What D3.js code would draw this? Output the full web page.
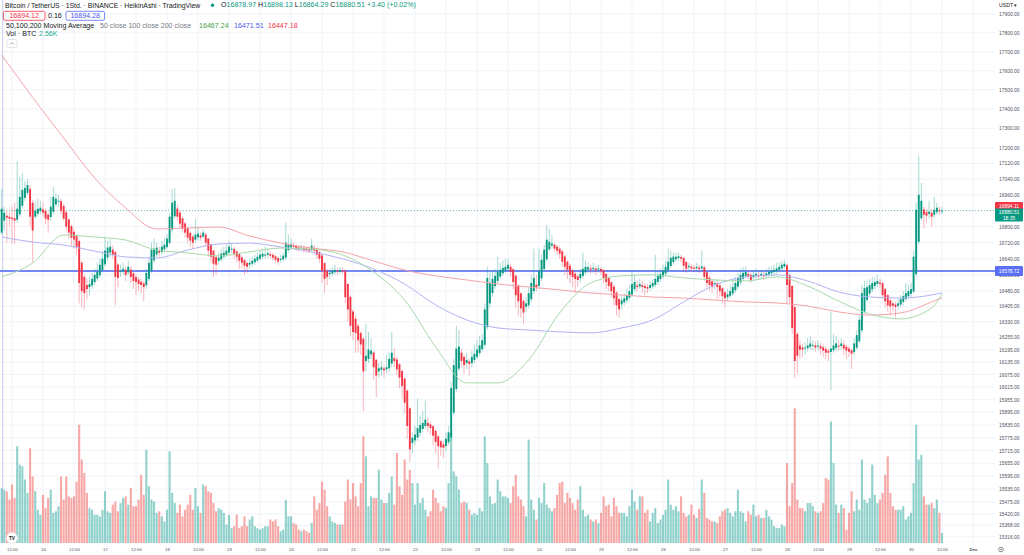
<!DOCTYPE html>
<html>
<head>
<meta charset="utf-8">
<script src="https://cdn.jsdelivr.net/npm/d3@7"></script>
<style>
  html, body { margin: 0; padding: 0; background: #fff; }
  svg { display: block; font-family: "Liberation Sans", Arial, sans-serif; }
</style>
</head>
<body>
<div id="chart"></div>
<script>
// BTC/USDT 1h Heikin Ashi, first candle 15 Nov 2022 08:00 UTC
var firstCandle = Date.UTC(2022, 10, 15, 8)

var haOpen = [
  16770,16830,16855,16850,16845,16842,16835,16862,16905,16945,16970,16990,
  16920,16850,16865,16878,16887,16878,16860,16848,16875,16912,16926,16928,
  16904,16872,16836,16803,16774,16755,16728,16620,16550,16510,16500,16508,
  16524,16542,16558,16584,16612,16646,16670,16685,16672,16611,16578,16579,
  16585,16572,16586,16568,16549,16537,16526,16518,16509,16540,16580,16632,
  16661,16678,16674,16687,16698,16719,16785,16852,16891,16870,16842,16816,
  16793,16769,16750,16735,16747,16756,16750,16760,16740,16710,16680,16648,
  16629,16637,16651,16660,16670,16685,16688,16676,16663,16646,16633,16619,
  16610,16615,16622,16631,16640,16650,16657,16659,16663,16659,16652,16643,
  16634,16637,16646,16683,16697,16704,16702,16696,16692,16694,16690,16687,
  16683,16694,16687,16673,16656,16618,16579,16564,16567,16573,16579,16577,
  16581,16580,16515,16452,16380,16345,16310,16275,16248,16140,16150,16172,
  16181,16146,16090,16098,16104,16100,16105,16128,16154,16147,16124,16092,
  16056,15998,15914,15750,15762,15776,15798,15816,15830,15845,15838,15829,
  15807,15781,15758,15744,15736,15753,15776,15893,16006,16103,16180,16160,
  16130,16138,16130,16145,16160,16178,16197,16218,16304,16420,16470,16505,
  16530,16552,16568,16581,16590,16600,16588,16556,16508,16469,16432,16403,
  16410,16440,16480,16512,16506,16543,16589,16637,16686,16705,16710,16700,
  16690,16677,16651,16625,16605,16582,16566,16553,16544,16555,16572,16586,
  16592,16588,16591,16586,16589,16583,16564,16544,16524,16502,16473,16441,
  16415,16425,16435,16447,16463,16489,16507,16503,16509,16505,16500,16496,
  16503,16511,16525,16540,16552,16566,16583,16604,16624,16637,16643,16648,
  16644,16624,16598,16601,16596,16593,16596,16592,16597,16573,16546,16528,
  16514,16517,16508,16494,16475,16450,16457,16468,16484,16502,16523,16541,
  16555,16565,16560,16548,16554,16560,16556,16560,16556,16562,16568,16574,
  16579,16585,16592,16601,16608,16559,16505,16402,16271,16215,16205,16200,
  16202,16208,16215,16216,16210,16212,16206,16198,16189,16184,16192,16203,
  16214,16212,16218,16209,16200,16192,16183,16204,16235,16288,16379,16437,
  16468,16489,16505,16515,16522,16519,16490,16460,16435,16420,16414,16408,
  16414,16427,16441,16455,16467,16478,16564,16724,16842,16886,16873,16864,
  16870,16860,16872,16884,16878.97]

var haHigh = [
  16990,16900,16880,16870,16900,16920,17130,17050,17070,17030,17040,17010,
  16935,16930,16940,16930,16920,16890,16870,16950,17000,16970,16960,16940,
  16915,16880,16845,16810,16790,16760,16735,16630,16560,16540,16550,16570,
  16590,16620,16640,16680,16750,16730,16740,16705,16680,16620,16610,16620,
  16600,16630,16605,16575,16560,16550,16540,16530,16590,16650,16720,16740,
  16720,16700,16730,16740,16760,16870,16990,16995,16910,16880,16850,16825,
  16800,16775,16760,16840,16800,16770,16790,16770,16745,16715,16685,16655,
  16670,16690,16700,16710,16730,16715,16700,16685,16670,16655,16640,16625,
  16640,16650,16660,16670,16680,16690,16700,16690,16680,16670,16660,16650,
  16660,16670,16820,16760,16740,16720,16710,16705,16710,16705,16700,16700,
  16740,16710,16695,16680,16665,16625,16590,16590,16600,16610,16595,16600,
  16600,16590,16520,16460,16390,16360,16320,16285,16255,16320,16280,16250,
  16190,16150,16130,16140,16120,16170,16180,16280,16200,16160,16130,16100,
  16060,16005,15920,15800,15830,15960,15880,15900,15950,15870,15850,15835,
  15815,15790,15765,15760,15800,15830,16040,16150,16310,16290,16200,16170,
  16180,16150,16190,16220,16240,16260,16270,16420,16600,16580,16580,16590,
  16650,16620,16630,16640,16640,16615,16595,16560,16515,16475,16440,16450,
  16500,16560,16690,16560,16690,16660,16710,16810,16790,16760,16720,16710,
  16700,16685,16660,16635,16615,16590,16575,16560,16590,16670,16630,16620,
  16610,16620,16605,16610,16600,16590,16570,16550,16530,16510,16480,16450,
  16460,16470,16490,16510,16580,16560,16530,16540,16530,16520,16515,16530,
  16540,16660,16580,16590,16610,16630,16690,16680,16670,16670,16670,16660,
  16650,16630,16620,16615,16610,16620,16610,16680,16605,16580,16555,16535,
  16540,16530,16515,16500,16480,16490,16510,16530,16550,16570,16590,16600,
  16600,16580,16570,16580,16590,16575,16585,16575,16590,16600,16600,16610,
  16620,16620,16630,16635,16615,16565,16510,16410,16280,16240,16225,16230,
  16250,16260,16240,16235,16240,16230,16220,16210,16200,16380,16270,16260,
  16240,16250,16240,16220,16210,16200,16250,16290,16360,16510,16530,16530,
  16540,16550,16550,16560,16540,16525,16495,16465,16440,16430,16425,16440,
  16460,16480,16520,16510,16520,16680,16920,17160,17020,16900,16890,16930,
  16890,16950,16920,16900,16898.13]

var haLow = [
  16760,16780,16720,16800,16715,16715,16820,16850,16890,16930,16960,16800,
  16620,16840,16850,16860,16850,16810,16770,16830,16860,16900,16900,16860,
  16830,16780,16740,16700,16690,16660,16420,16400,16390,16440,16460,16490,
  16510,16530,16545,16570,16600,16630,16650,16640,16410,16500,16550,16560,
  16530,16560,16520,16490,16460,16480,16470,16430,16490,16530,16570,16620,
  16650,16650,16660,16670,16690,16710,16770,16840,16830,16790,16770,16745,
  16720,16700,16690,16720,16730,16730,16740,16700,16650,16620,16550,16560,
  16610,16625,16640,16650,16660,16670,16640,16620,16590,16590,16560,16570,
  16590,16600,16610,16620,16630,16640,16640,16645,16640,16630,16620,16610,
  16620,16625,16635,16670,16685,16690,16680,16675,16680,16670,16670,16665,
  16670,16660,16640,16620,16520,16470,16510,16540,16555,16560,16560,16565,
  16565,16420,16330,16260,16240,16180,16180,16170,15900,16090,16130,16150,
  16050,15965,16060,16070,16060,16080,16090,16110,16110,16070,16010,15960,
  15890,15770,15660,15700,15740,15760,15780,15800,15815,15800,15790,15740,
  15700,15630,15690,15680,15710,15740,15760,15880,15990,16090,16110,16080,
  16100,16070,16110,16130,16150,16165,16185,16205,16290,16400,16450,16490,
  16515,16540,16555,16570,16580,16550,16490,16400,16360,16350,16320,16380,
  16395,16425,16465,16480,16490,16530,16575,16625,16680,16690,16675,16660,
  16640,16600,16560,16540,16520,16500,16470,16500,16520,16540,16560,16570,
  16565,16570,16560,16570,16560,16520,16490,16480,16450,16410,16360,16350,
  16390,16410,16420,16435,16450,16475,16480,16490,16470,16460,16470,16480,
  16490,16500,16510,16525,16540,16550,16570,16595,16610,16625,16630,16620,
  16580,16570,16580,16575,16575,16580,16570,16580,16530,16500,16480,16470,
  16490,16440,16450,16420,16400,16430,16445,16455,16470,16490,16510,16530,
  16545,16540,16520,16530,16540,16535,16540,16535,16545,16550,16555,16560,
  16565,16570,16580,16590,16420,16420,16270,16055,16080,16150,16160,16170,
  16185,16195,16190,16185,16190,16170,16160,16150,16140,16000,16180,16190,
  16190,16195,16170,16150,16160,16100,16170,16195,16225,16275,16370,16425,
  16455,16475,16490,16500,16495,16440,16400,16380,16360,16380,16350,16390,
  16400,16410,16430,16440,16450,16470,16550,16710,16830,16790,16820,16840,
  16800,16845,16860,16860,16864.29]

var haClose = [
  16890,16870,16845,16840,16838,16830,16890,16950,16985,16995,17010,16850,
  16780,16880,16890,16895,16870,16840,16835,16900,16950,16940,16930,16880,
  16840,16800,16770,16745,16735,16700,16520,16480,16470,16490,16515,16540,
  16560,16575,16610,16640,16680,16695,16700,16660,16550,16545,16580,16590,
  16560,16600,16550,16530,16525,16515,16510,16500,16570,16620,16685,16690,
  16695,16670,16700,16710,16740,16850,16920,16930,16850,16815,16790,16770,
  16745,16730,16720,16760,16765,16745,16770,16720,16680,16650,16615,16610,
  16645,16665,16670,16680,16700,16690,16665,16650,16630,16620,16605,16600,
  16620,16630,16640,16650,16660,16665,16660,16668,16655,16645,16635,16625,
  16640,16655,16720,16710,16712,16700,16690,16688,16695,16685,16683,16680,
  16705,16680,16660,16640,16580,16540,16550,16570,16580,16585,16575,16585,
  16578,16450,16390,16310,16280,16275,16240,16220,16090,16165,16195,16190,
  16110,16070,16105,16110,16095,16110,16150,16180,16140,16100,16060,16020,
  15940,15830,15720,15775,15790,15820,15835,15845,15860,15830,15820,15785,
  15755,15735,15730,15728,15770,15800,16010,16120,16200,16210,16140,16120,
  16145,16125,16160,16175,16195,16215,16240,16390,16545,16520,16540,16555,
  16575,16585,16595,16600,16610,16575,16525,16460,16430,16395,16375,16420,
  16470,16520,16545,16500,16580,16635,16685,16735,16725,16715,16690,16680,
  16665,16625,16600,16585,16560,16550,16540,16535,16565,16590,16600,16598,
  16585,16595,16582,16592,16578,16545,16525,16505,16480,16445,16410,16390,
  16435,16445,16460,16480,16515,16525,16500,16515,16500,16495,16492,16510,
  16520,16540,16555,16565,16580,16600,16625,16645,16650,16650,16652,16640,
  16605,16590,16605,16592,16590,16600,16588,16602,16550,16520,16510,16500,
  16520,16500,16480,16455,16445,16465,16480,16500,16520,16545,16560,16570,
  16575,16555,16535,16560,16565,16552,16565,16553,16568,16575,16580,16585,
  16592,16600,16610,16615,16510,16450,16300,16140,16165,16195,16195,16205,
  16215,16225,16218,16205,16215,16200,16190,16180,16180,16200,16215,16225,
  16210,16225,16200,16190,16185,16175,16225,16265,16340,16470,16495,16500,
  16510,16520,16525,16530,16515,16460,16430,16410,16405,16408,16402,16420,
  16440,16455,16470,16480,16490,16650,16885,16960,16930,16860,16855,16875,
  16850,16885,16895,16878,16880.51]

// volume in thousand BTC
var volume = [
  14.0,13.6,13.2,11.1,14.9,11.5,24.7,20.0,19.6,16.2,12.8,24.2,
  17.0,13.2,8.5,7.2,12.3,8.9,11.5,13.6,7.7,8.1,9.4,17.0,
  11.1,17.0,11.9,11.5,11.9,15.7,30.2,21.3,17.9,12.8,8.9,8.5,
  7.2,7.2,6.8,8.5,13.2,8.1,7.7,9.8,10.6,8.1,10.2,11.5,
  11.9,9.8,14.0,9.4,9.4,11.1,17.4,12.3,23.8,14.5,11.1,10.6,
  7.7,8.1,6.8,5.5,8.5,23.4,12.8,10.2,7.7,9.8,6.8,8.5,
  9.8,12.3,8.5,14.0,9.4,7.7,14.9,14.5,13.2,12.8,10.2,8.1,
  8.9,8.5,7.7,4.7,7.2,3.8,4.3,7.2,3.8,4.3,6.8,4.3,
  6.0,6.8,4.3,3.8,3.4,3.8,4.3,4.3,6.0,5.5,6.0,4.3,
  3.0,3.4,11.0,6.8,6.8,5.1,4.7,3.4,3.0,3.4,3.0,2.6,
  5.1,11.9,8.5,10.2,15.7,13.6,9.4,6.8,5.5,5.1,4.7,4.7,
  4.7,10.6,16.2,11.1,15.3,11.9,9.4,15.3,27.2,22.1,9.4,11.9,
  11.5,11.5,18.7,11.1,10.2,10.2,12.8,17.0,9.8,23.0,14.5,12.3,
  21.3,16.2,18.7,15.3,9.8,15.3,10.2,11.5,8.5,6.8,8.1,13.6,
  11.5,10.2,8.1,9.4,8.9,15.3,28.1,18.3,17.0,13.6,10.2,10.6,
  10.2,8.5,7.2,7.7,7.2,8.9,8.1,27.2,20.4,11.9,10.0,10.2,
  16.2,13.2,11.9,11.9,11.5,10.2,14.5,17.4,11.9,11.1,9.4,6.8,
  26.4,11.1,8.5,6.0,11.5,10.2,15.3,9.8,8.9,8.1,8.9,12.3,
  15.3,15.7,10.2,12.8,11.5,10.2,8.5,11.1,14.5,8.5,6.8,7.2,
  6.0,5.5,6.0,5.1,7.7,11.9,9.4,9.8,6.8,11.5,9.4,7.7,
  7.7,7.7,6.8,9.4,13.6,10.6,8.5,11.9,11.9,7.7,8.5,5.5,
  7.7,8.9,5.1,6.0,7.2,8.5,16.2,9.8,8.5,9.4,8.1,11.9,
  7.7,6.8,7.2,9.8,7.2,6.4,8.7,16.2,12.8,6.4,6.0,5.5,
  5.5,5.1,6.8,8.1,8.5,8.9,7.7,6.8,8.1,13.6,8.1,7.7,
  5.5,8.1,7.2,9.8,6.8,7.2,6.4,6.4,8.5,6.8,6.0,4.3,
  3.8,3.8,4.7,4.3,20.4,9.4,15.3,34.4,11.1,8.9,8.9,8.1,
  10.2,10.2,9.4,8.1,7.7,8.1,10.2,16.6,16.2,31.0,20.4,9.8,
  7.7,9.8,8.9,3.4,7.7,13.2,8.1,11.1,8.5,21.3,11.1,10.2,
  11.5,20.0,12.3,10.2,11.1,12.8,17.4,22.1,12.8,9.4,8.5,8.5,
  8.5,9.4,6.0,6.8,7.7,15.3,30.2,21.3,22.5,11.9,9.8,9.8,
  10.2,8.9,11.1,7.7,2.56]

// moving averages, read every 12 candles
var maIndex = [0,12,24,36,48,60,72,84,96,108,120,132,144,156,168,180,192,204,216,228,240,252,264,276,288,300,312,324,336,348,360,364]
var ma50 = [16550,16619,16758,16748,16733,16683,16669,16654,16674,16693,16688,16659,16574,16436,16208,16035,16035,16145,16373,16520,16555,16560,16545,16535,16530,16550,16505,16431,16368,16344,16398,16467.24]
var ma100 = [16748,16723,16708,16678,16649,16644,16683,16713,16718,16698,16674,16639,16589,16515,16412,16339,16300,16290,16281,16276,16300,16339,16427,16510,16550,16560,16530,16476,16451,16446,16461,16471.51]
var ma200 = [17682,17460,17250,17046,16894,16788,16793,16798,16753,16718,16693,16674,16629,16584,16555,16535,16515,16500,16486,16471,16461,16451,16446,16436,16427,16422,16407,16378,16363,16373,16427,16447.18]

var priceTicks = [17900,17800,17700,17600,17500,17400,17300,17200,17120,17040,16960,16880,16800,16720,16640,16560,
                  16480,16405,16330,16255,16195,16135,16075,16015,15955,15895,15835,15775,15715,15655,15595,15535,
                  15475,15420,15368,15316]
var lineLevel = 16578.72
var lastClose = 16880.51
var lastPrice = 16894.11

var width = 1024, height = 555
var plotRight = 995, volBase = 543
var upColor = "#089981", downColor = "#f23645"

var svg = d3.select("#chart").append("svg")
    .attr("width", width)
    .attr("height", height)
svg.append("rect").attr("width", width).attr("height", height).attr("fill", "#fff")
svg.append("defs").append("clipPath").attr("id", "plotclip")
    .append("rect").attr("x", 0).attr("y", 0).attr("width", plotRight).attr("height", volBase)

function candleTime(i) { return new Date(firstCandle + i * 3600e3) }

var x = d3.scaleUtc()
    .domain([new Date(Date.UTC(2022, 10, 16)), new Date(Date.UTC(2022, 11, 1))])
    .range([43, 973])
var y = d3.scaleLog().domain([15316, 17900]).range([536.7, 14])
var yVol = d3.scaleLinear().domain([0, 36]).range([volBase, 402])

var timeTicks = d3.utcHour.every(12).range(new Date(Date.UTC(2022, 10, 15, 12)), new Date(Date.UTC(2022, 11, 1, 1)))

// grid
var grid = svg.append("g")
grid.selectAll(".hg").data(priceTicks).enter().append("line")
    .attr("x1", 0).attr("x2", plotRight)
    .attr("y1", function (d) { return y(d) }).attr("y2", function (d) { return y(d) })
    .attr("stroke", "#f0f3fa")
grid.selectAll(".vg").data(timeTicks).enter().append("line")
    .attr("x1", function (d) { return x(d) }).attr("x2", function (d) { return x(d) })
    .attr("y1", 0).attr("y2", volBase)
    .attr("stroke", "#f0f3fa")

var plot = svg.append("g").attr("clip-path", "url(#plotclip)")

// left vertical marker line
plot.append("line").attr("x1", 2.7).attr("x2", 2.7).attr("y1", 0).attr("y2", volBase)
    .attr("stroke", "#c9cbee").attr("stroke-width", 1)

// volume
plot.selectAll(".vol").data(volume).enter().append("rect")
    .attr("x", function (d, i) { return x(candleTime(i)) - 1.05 })
    .attr("width", 2.1)
    .attr("y", function (d) { return yVol(d) })
    .attr("height", function (d) { return volBase - yVol(d) })
    .attr("fill", function (d, i) { return haClose[i] >= haOpen[i] ? "rgba(38,166,154,0.5)" : "rgba(239,83,80,0.5)" })

// horizontal line and last price line
plot.append("line").attr("x1", 0).attr("x2", plotRight)
    .attr("y1", y(lineLevel)).attr("y2", y(lineLevel))
    .attr("stroke", "#7489f7").attr("stroke-width", 2)
plot.append("line").attr("x1", 0).attr("x2", plotRight)
    .attr("y1", y(lastClose)).attr("y2", y(lastClose))
    .attr("stroke", upColor).attr("stroke-opacity", 0.55).attr("stroke-dasharray", "1,2")

// candles
var candles = plot.selectAll(".candle").data(haClose).enter().append("g")
candles.append("line")
    .attr("x1", function (d, i) { return x(candleTime(i)) })
    .attr("x2", function (d, i) { return x(candleTime(i)) })
    .attr("y1", function (d, i) { return y(haHigh[i]) })
    .attr("y2", function (d, i) { return y(haLow[i]) })
    .attr("stroke", function (d, i) { return d >= haOpen[i] ? upColor : downColor })
    .attr("stroke-opacity", 0.45)
    .attr("stroke-width", 0.8)
candles.append("rect")
    .attr("x", function (d, i) { return x(candleTime(i)) - 0.95 })
    .attr("width", 1.9)
    .attr("y", function (d, i) { return y(Math.max(d, haOpen[i])) })
    .attr("height", function (d, i) { return Math.max(1, Math.abs(y(d) - y(haOpen[i]))) })
    .attr("fill", function (d, i) { return d >= haOpen[i] ? upColor : downColor })

// moving averages
var maLine = d3.line()
    .x(function (d) { return x(candleTime(d[0])) })
    .y(function (d) { return y(d[1]) })
    .curve(d3.curveMonotoneX)
var maSeries = [[ma200, "#f5a3a8"], [ma100, "#b3b3f3"], [ma50, "#a8d9ab"]]
maSeries.forEach(function (s) {
    plot.append("path")
        .attr("d", maLine(maIndex.map(function (t, k) { return [t, s[0][k]] })))
        .attr("fill", "none")
        .attr("stroke", s[1])
        .attr("stroke-width", 1)
})

// price axis
var yAxis = d3.axisRight(y).tickValues(priceTicks).tickFormat(d3.format(".2f")).tickSize(0).tickPadding(4)
var yg = svg.append("g").attr("transform", "translate(" + plotRight + ",0)").call(yAxis)
yg.select(".domain").remove()
yg.attr("font-family", null).attr("font-size", null)
yg.selectAll("text").style("font-size", "4.9px").attr("fill", "#50535e")

svg.append("text").attr("x", 999).attr("y", 4.5).attr("dominant-baseline", "central")
    .style("font-size", "5.2px").attr("fill", "#131722").text("USDT \u25BE")

// time axis
var fmtTime = function (d) {
    if (d.getUTCHours() === 12) return "12:00"
    if (d.getUTCDate() === 1) return "Dec"
    return d.getUTCDate()
}
var xAxis = d3.axisBottom(x).tickValues(timeTicks).tickFormat(fmtTime).tickSize(0).tickPadding(0)
var xg = svg.append("g").attr("transform", "translate(0,547.5)").call(xAxis)
xg.select(".domain").remove()
xg.attr("font-family", null).attr("font-size", null)
xg.selectAll("text").style("font-size", "4.4px").attr("fill", "#50535e")
    .attr("font-weight", function (d) { return fmtTime(d) === "Dec" ? "bold" : null })

// gear icon
svg.append("circle").attr("cx", 1001).attr("cy", 549.5).attr("r", 2.3)
    .attr("fill", "none").attr("stroke", "#6a6d78").attr("stroke-width", 0.8)
svg.append("circle").attr("cx", 1001).attr("cy", 549.5).attr("r", 0.8).attr("fill", "#6a6d78")

// price labels on axis
function axisLabel(yc, h, fill, lines) {
    svg.append("rect").attr("x", plotRight).attr("y", yc - h / 2).attr("width", 28).attr("height", h)
        .attr("fill", fill).attr("rx", 1)
    lines.forEach(function (t, k) {
        svg.append("text").attr("x", plotRight + 14).attr("y", yc - (lines.length - 1) * 3 + k * 6)
            .attr("text-anchor", "middle").attr("dominant-baseline", "central")
            .style("font-size", "4.9px").attr("fill", "#fff").text(t)
    })
}
axisLabel(y(lastPrice) - 1.5, 9, downColor, [d3.format(".2f")(lastPrice)])
axisLabel(y(lastClose) + 4.5, 13, upColor, [d3.format(".2f")(lastClose), "18:35"])
axisLabel(y(lineLevel), 10, "#5b6ff5", [d3.format(".2f")(lineLevel)])

// TradingView logo
svg.append("circle").attr("cx", 12).attr("cy", 538).attr("r", 5.5)
    .attr("fill", "#fff").attr("stroke", "#e0e3eb").attr("stroke-width", 0.6)
svg.append("text").attr("x", 12).attr("y", 538.3).attr("text-anchor", "middle").attr("dominant-baseline", "central")
    .style("font-size", "4.6px").attr("font-weight", "bold").attr("fill", "#131722").text("TV")

// legend block
var fs = "7.1px"
var dark = "#131722", gray = "#787b86"
function legendText(xp, yp, parts, size) {
    var t = svg.append("text").attr("x", xp).attr("y", yp).attr("dominant-baseline", "central")
        .style("font-size", size || fs)
    parts.forEach(function (p) {
        var s = t.append("tspan").attr("fill", p[1]).text(p[0])
        if (p[2] != null) s.attr("x", p[2])
    })
    return t
}
legendText(5, 5.3, [["Bitcoin / TetherUS \u00B7 1Std. \u00B7 BINANCE \u00B7 HeikinAshi \u00B7 TradingView", dark]], "6.85px")
svg.append("circle").attr("cx", 212.5).attr("cy", 5.3).attr("r", 1.7).attr("fill", upColor)
legendText(221, 5.3, [["O", dark], ["16878.97", upColor], [" H", dark], ["16898.13", upColor], [" L", dark], ["16864.29", upColor],
                      [" C", dark], ["16880.51", upColor], [" +3.40 (+0.02%)", upColor]])

svg.append("rect").attr("x", 3.5).attr("y", 11.3).attr("width", 41.5).attr("height", 9).attr("rx", 1.5)
    .attr("fill", "#fff").attr("stroke", downColor).attr("stroke-width", 0.8)
svg.append("text").attr("x", 24.2).attr("y", 15.8).attr("text-anchor", "middle").attr("dominant-baseline", "central")
    .style("font-size", fs).attr("fill", downColor).text("16894.12")
legendText(48, 15.8, [["0.16", dark]])
svg.append("rect").attr("x", 66).attr("y", 11.3).attr("width", 38.5).attr("height", 9).attr("rx", 1.5)
    .attr("fill", "#fff").attr("stroke", "#5b6ff5").attr("stroke-width", 0.8)
svg.append("text").attr("x", 85.2).attr("y", 15.8).attr("text-anchor", "middle").attr("dominant-baseline", "central")
    .style("font-size", fs).attr("fill", "#3f55f0").text("16894.28")

legendText(6, 25.7, [["50,100,200 Moving Average", dark], ["50 close 100 close 200 close", gray, 100],
                     ["16467.24", "#43a047", 199], ["16471.51", "#4e5bf0", 234], ["16447.18", downColor, 268]])
legendText(6, 34.3, [["Vol \u00B7 BTC", dark], ["2.56K", "#22ab94", 39]])

svg.append("rect").attr("x", 7).attr("y", 39.5).attr("width", 10).attr("height", 8).attr("rx", 1.5)
    .attr("fill", "#fff").attr("stroke", "#d1d4dc").attr("stroke-width", 0.6)
svg.append("path").attr("d", "M10,44.5 L12,42.5 L14,44.5").attr("fill", "none").attr("stroke", "#6a6d78").attr("stroke-width", 0.6)

var n = haClose.length
if (haOpen.length !== n || haHigh.length !== n || haLow.length !== n || volume.length !== n) {
    throw new Error("length mismatch " + [haOpen.length, haHigh.length, haLow.length, n, volume.length].join(","))
}
</script>
</body>
</html>
